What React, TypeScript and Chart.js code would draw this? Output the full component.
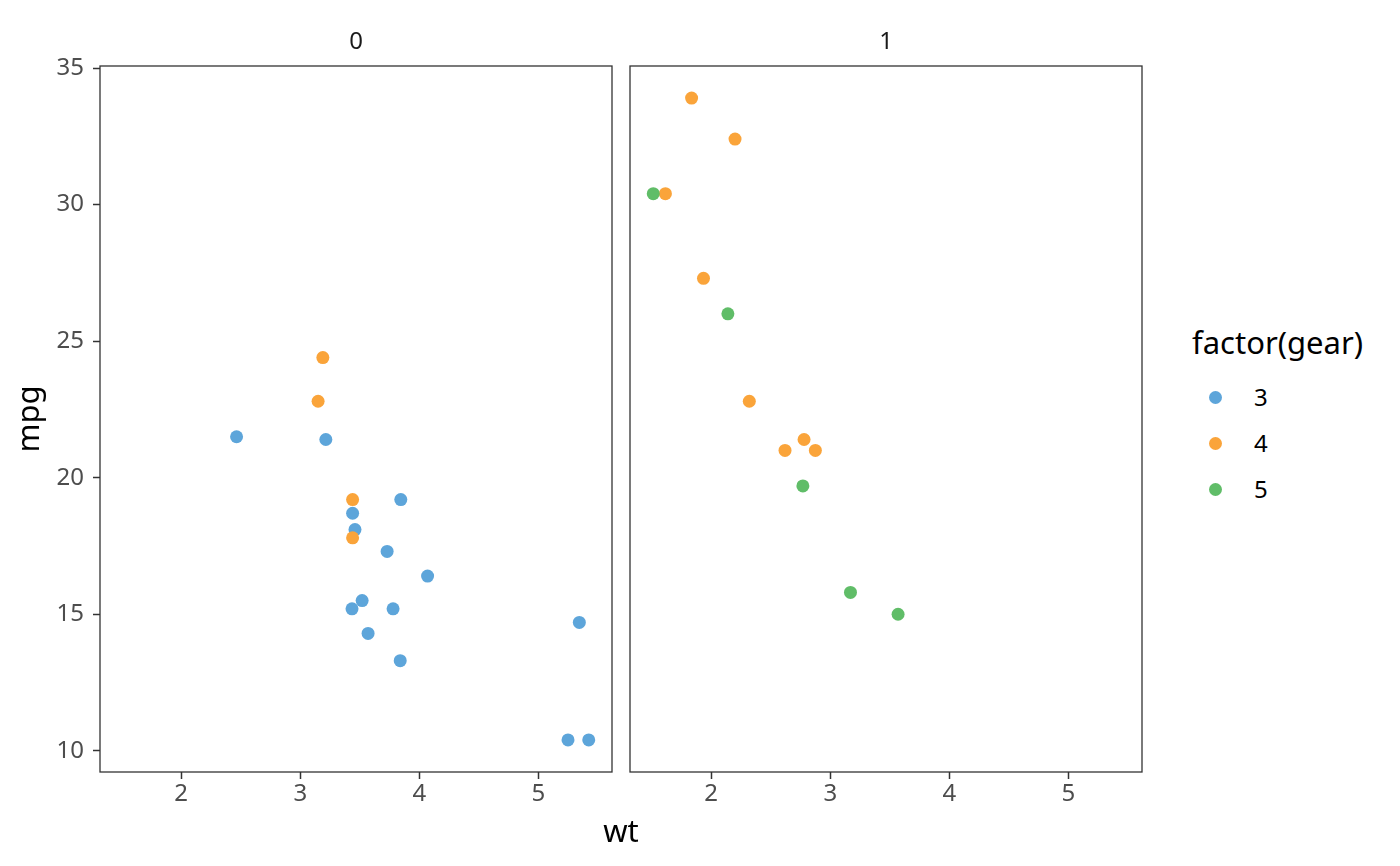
import { Chart, registerables, ChartConfiguration, Plugin } from "chart.js";
import { useRef, useEffect } from "react";

Chart.register(...registerables);

// mtcars: wt, mpg, am, gear (row order kept)
const wt = [
  2.62, 2.875, 2.32, 3.215, 3.44, 3.46, 3.57, 3.19, 3.15, 3.44, 3.44, 4.07,
  3.73, 3.78, 5.25, 5.424, 5.345, 2.2, 1.615, 1.835, 2.465, 3.52, 3.435, 3.84,
  3.845, 1.935, 2.14, 1.513, 3.17, 2.77, 3.57, 2.78,
];
const mpg = [
  21.0, 21.0, 22.8, 21.4, 18.7, 18.1, 14.3, 24.4, 22.8, 19.2, 17.8, 16.4, 17.3,
  15.2, 10.4, 10.4, 14.7, 32.4, 30.4, 33.9, 21.5, 15.5, 15.2, 13.3, 19.2, 27.3,
  26.0, 30.4, 15.8, 19.7, 15.0, 21.4,
];
const am = [
  1, 1, 1, 0, 0, 0, 0, 0, 0, 0, 0, 0, 0, 0, 0, 0, 0, 1, 1, 1, 0, 0, 0, 0, 0, 1,
  1, 1, 1, 1, 1, 1,
];
const gear = [
  4, 4, 4, 3, 3, 3, 3, 4, 4, 4, 4, 3, 3, 3, 3, 3, 3, 4, 4, 4, 3, 3, 3, 3, 3, 4,
  5, 5, 5, 5, 5, 4,
];

const facets = [0, 1];
const gearLevels = [3, 4, 5];
const gearColors = ["#5DA5DA", "#FAA43A", "#60BD68"];
const xTicks = [2, 3, 4, 5];
const yTicks = [10, 15, 20, 25, 30, 35];

const FONT = "'Noto Sans', 'DejaVu Sans', sans-serif";
const TICK_SIZE = 24;
const TITLE_SIZE = 31;

// ggplot-like 5% expansion
const xMin = Math.min(...wt);
const xMax = Math.max(...wt);
const yMin = Math.min(...mpg);
const yMax = Math.max(...mpg);
const xPad = (xMax - xMin) * 0.05;
const yPad = (yMax - yMin) * 0.05;

const panelPlugin: Plugin = {
  id: "panel",
  afterDraw(chart, _args, opts: any) {
    const { ctx, chartArea } = chart;
    ctx.save();
    ctx.strokeStyle = "#333333";
    ctx.lineWidth = 1.3;
    ctx.strokeRect(
      chartArea.left,
      chartArea.top,
      chartArea.right - chartArea.left,
      chartArea.bottom - chartArea.top,
    );
    ctx.fillStyle = "#1a1a1a";
    ctx.font = `${TICK_SIZE}px ${FONT}`;
    ctx.textAlign = "center";
    ctx.textBaseline = "middle";
    ctx.fillText(opts.label, (chartArea.left + chartArea.right) / 2, chartArea.top - 24);
    ctx.restore();
  },
};

function makeConfig(facet: number, showY: boolean): ChartConfiguration {
  const pts: { x: number; y: number }[] = [];
  const cols: string[] = [];
  wt.forEach((w, i) => {
    if (am[i] !== facet) return;
    pts.push({ x: w, y: mpg[i] });
    cols.push(gearColors[gearLevels.indexOf(gear[i])]);
  });
  const tickGrid = {
    display: true,
    drawOnChartArea: false,
    drawTicks: true,
    tickLength: 7,
    tickWidth: 1.5,
    color: "#333333",
  };
  return {
    type: "scatter",
    data: {
      datasets: [
        {
          data: pts,
          pointBackgroundColor: cols,
          pointBorderWidth: 0,
          pointRadius: 6.5,
          pointHoverRadius: 6.5,
        },
      ],
    },
    options: {
      animation: false,
      responsive: false,
      events: [],
      layout: {
        padding: showY
          ? { left: 0, top: 66, right: 8, bottom: 0 }
          : { left: 10, top: 66, right: 18, bottom: 0 },
      },
      plugins: {
        legend: { display: false },
        tooltip: { enabled: false },
        panel: { label: String(facet) },
      } as any,
      scales: {
        x: {
          type: "linear",
          min: xMin - xPad,
          max: xMax + xPad,
          afterBuildTicks: (s: any) => {
            s.ticks = xTicks.map((v) => ({ value: v }));
          },
          afterFit: (s: any) => {
            s.height = 96;
          },
          grid: tickGrid,
          border: { display: false },
          ticks: {
            color: "#4d4d4d",
            font: { family: FONT, size: TICK_SIZE },
            padding: 1,
            maxRotation: 0,
          },
        },
        y: {
          type: "linear",
          display: showY,
          min: yMin - yPad,
          max: yMax + yPad,
          afterBuildTicks: (s: any) => {
            s.ticks = yTicks.map((v) => ({ value: v }));
          },
          afterFit: (s: any) => {
            s.width = showY ? 100 : 0;
          },
          grid: tickGrid,
          border: { display: false },
          ticks: {
            color: "#4d4d4d",
            font: { family: FONT, size: TICK_SIZE },
            padding: 9,
          },
          title: {
            display: true,
            text: "mpg",
            color: "#000000",
            font: { family: FONT, size: TITLE_SIZE },
            padding: { top: 12, bottom: 0 },
          },
        },
      },
    },
    plugins: [panelPlugin],
  };
}

function Panel({ facet, left, width }: { facet: number; left: number; width: number }) {
  const ref = useRef<HTMLCanvasElement>(null);
  useEffect(() => {
    if (!ref.current) return;
    const chart = new Chart(ref.current, makeConfig(facet, facet === 0));
    return () => chart.destroy();
  }, [facet]);
  return (
    <canvas
      ref={ref}
      width={width}
      height={868}
      style={{ position: "absolute", left, top: 0, width, height: 868, display: "block" }}
    />
  );
}

export default function App() {
  return (
    <div
      style={{
        position: "absolute",
        left: 0,
        top: 0,
        width: 1400,
        height: 866,
        background: "#ffffff",
        fontFamily: FONT,
        overflow: "hidden",
      }}
    >
      <Panel facet={facets[0]} left={0} width={620} />
      <Panel facet={facets[1]} left={620} width={540} />
      <div
        style={{
          position: "absolute",
          left: 521,
          width: 200,
          top: 810,
          textAlign: "center",
          fontSize: TITLE_SIZE,
          lineHeight: "40px",
          color: "#000",
        }}
      >
        wt
      </div>
      <div style={{ position: "absolute", left: 1192, top: 322 }}>
        <div style={{ fontSize: TITLE_SIZE, lineHeight: "40px", color: "#000" }}>
          factor(gear)
        </div>
        {gearLevels.map((g, i) => (
          <div
            key={g}
            style={{
              position: "absolute",
              top: 52 + i * 46,
              left: 0,
              height: 46,
              display: "flex",
              alignItems: "center",
              width: 150,
            }}
          >
            <span
              style={{
                position: "absolute",
                left: 16.5,
                width: 13,
                height: 13,
                borderRadius: "50%",
                background: gearColors[i],
              }}
            />
            <span
              style={{
                position: "absolute",
                left: 62,
                fontSize: TICK_SIZE,
                lineHeight: "46px",
                color: "#000",
              }}
            >
              {g}
            </span>
          </div>
        ))}
      </div>
    </div>
  );
}
